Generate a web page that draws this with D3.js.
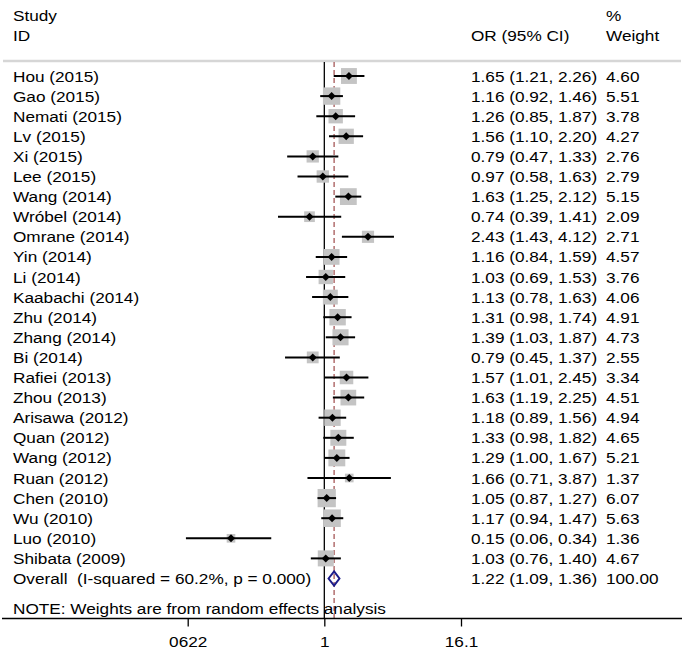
<!DOCTYPE html>
<html>
<head>
<meta charset="utf-8">
<script src="https://cdn.jsdelivr.net/npm/d3@7"></script>
<style>
  html, body { margin: 0; padding: 0; background: #fff; }
  svg { display: block; }
  text { font-family: "Liberation Sans", Arial, sans-serif; fill: #000; white-space: pre; }
</style>
</head>
<body>
<script>
// ---- data ----
const studies = ["Hou (2015)","Gao (2015)","Nemati (2015)","Lv (2015)","Xi (2015)","Lee (2015)","Wang (2014)","Wróbel (2014)","Omrane (2014)","Yin (2014)","Li (2014)","Kaabachi (2014)","Zhu (2014)","Zhang (2014)","Bi (2014)","Rafiei (2013)","Zhou (2013)","Arisawa (2012)","Quan (2012)","Wang (2012)","Ruan (2012)","Chen (2010)","Wu (2010)","Luo (2010)","Shibata (2009)"];
const orValues = [1.65,1.16,1.26,1.56,0.79,0.97,1.63,0.74,2.43,1.16,1.03,1.13,1.31,1.39,0.79,1.57,1.63,1.18,1.33,1.29,1.66,1.05,1.17,0.15,1.03];
const ciLower  = [1.21,0.92,0.85,1.10,0.47,0.58,1.25,0.39,1.43,0.84,0.69,0.78,0.98,1.03,0.45,1.01,1.19,0.89,0.98,1.00,0.71,0.87,0.94,0.06,0.76];
const ciUpper  = [2.26,1.46,1.87,2.20,1.33,1.63,2.12,1.41,4.12,1.59,1.53,1.63,1.74,1.87,1.37,2.45,2.25,1.56,1.82,1.67,3.87,1.27,1.47,0.34,1.40];
const weights  = [4.60,5.51,3.78,4.27,2.76,2.79,5.15,2.09,2.71,4.57,3.76,4.06,4.91,4.73,2.55,3.34,4.51,4.94,4.65,5.21,1.37,6.07,5.63,1.36,4.67];
const overall = {label: "Overall  (I-squared = 60.2%, p = 0.000)", or: 1.22, lo: 1.09, hi: 1.36, weight: "100.00"};
const noteText = "NOTE: Weights are from random effects analysis";
const tickValues = [0.0622, 1, 16.1];
const tickLabels = ["0622", "1", "16.1"];

// ---- layout ----
const W = 685, H = 651;
const FS = 15.5, SX = 1.11;
const svg = d3.select("body").append("svg").attr("width", W).attr("height", H);

const x = d3.scaleLog().domain([0.0622, 16.1]).range([187.7, 461]);
const y = d3.scaleLinear().domain([0, 25]).range([76, 578.5]);
const axisY = 618.5;
const topY = 62;
const f2 = d3.format(".2f");

function txt(s, tx, ty, anchor) {
  return svg.append("text")
    .attr("transform", `translate(${tx},${ty}) scale(${SX},1)`)
    .attr("font-size", FS)
    .attr("xml:space", "preserve")
    .attr("text-anchor", anchor || "start")
    .text(s);
}

// headers
txt("Study", 13, 21);
txt("ID", 13, 41);
txt("OR (95% CI)", 471, 41);
txt("%", 606, 21);
txt("Weight", 606, 41);

// header rule
svg.append("line").attr("x1", 3).attr("x2", 681).attr("y1", topY - 1).attr("y2", topY - 1)
  .attr("stroke", "#d6d6d6").attr("stroke-width", 2.5);

// null line
svg.append("line").attr("x1", x(1)).attr("x2", x(1)).attr("y1", topY).attr("y2", axisY)
  .attr("stroke", "#000").attr("stroke-width", 1.3);

// overall dashed line
svg.append("line").attr("x1", x(overall.or)).attr("x2", x(overall.or)).attr("y1", topY).attr("y2", axisY)
  .attr("stroke", "#9e4a4a").attr("stroke-width", 1.2).attr("stroke-dasharray", "5,3");

// rows
const rows = studies.map((s, i) => ({s, or: orValues[i], lo: ciLower[i], hi: ciUpper[i], w: weights[i], i}));

const g = svg.append("g");
// boxes
g.selectAll("rect.box").data(rows).enter().append("rect")
  .attr("class", "box")
  .attr("x", d => x(d.or) - 3.7 * Math.sqrt(d.w))
  .attr("y", d => y(d.i) - 3.7 * Math.sqrt(d.w))
  .attr("width", d => 7.4 * Math.sqrt(d.w))
  .attr("height", d => 7.4 * Math.sqrt(d.w))
  .attr("fill", "#c4c4c4");
// CI lines
g.selectAll("line.ci").data(rows).enter().append("line")
  .attr("x1", d => x(d.lo)).attr("x2", d => x(d.hi))
  .attr("y1", d => y(d.i)).attr("y2", d => y(d.i))
  .attr("stroke", "#000").attr("stroke-width", 2);
// point markers
g.selectAll("path.pt").data(rows).enter().append("path")
  .attr("d", d => {
    const cx = x(d.or), cy = y(d.i), r = 4;
    return `M${cx - r},${cy}L${cx},${cy - r}L${cx + r},${cy}L${cx},${cy + r}Z`;
  })
  .attr("fill", "#000");

// row text
rows.forEach(d => {
  txt(d.s, 13, y(d.i) + 5.5);
  txt(`${f2(d.or)} (${f2(d.lo)}, ${f2(d.hi)})`, 471, y(d.i) + 5.5);
  txt(f2(d.w), 606, y(d.i) + 5.5);
});

// overall
const oy = y(25);
svg.append("path")
  .attr("d", `M${x(overall.lo)},${oy}L${x(overall.or)},${oy - 7}L${x(overall.hi)},${oy}L${x(overall.or)},${oy + 7}Z`)
  .attr("fill", "none").attr("stroke", "#1c1c8a").attr("stroke-width", 2);
txt(overall.label, 13, oy + 5.5);
txt(`${f2(overall.or)} (${f2(overall.lo)}, ${f2(overall.hi)})`, 471, oy + 5.5);
txt(overall.weight, 606, oy + 5.5);

// note
txt(noteText, 13, y(26.5) + 5.5);

// x axis
svg.append("line").attr("x1", 2).attr("x2", 682).attr("y1", axisY).attr("y2", axisY)
  .attr("stroke", "#000").attr("stroke-width", 1.3);
const axis = d3.axisBottom(x).tickValues(tickValues)
  .tickFormat((d, i) => tickLabels[i]).tickSize(8).tickSizeOuter(0).tickPadding(6);
const ag = svg.append("g").attr("transform", `translate(0,${axisY})`).call(axis);
ag.select(".domain").remove();
ag.selectAll(".tick line").attr("stroke", "#000").attr("stroke-width", 1.3);
ag.selectAll(".tick text")
  .attr("font-size", FS)
  .attr("font-family", "Liberation Sans, Arial, sans-serif")
  .attr("fill", "#000")
  .attr("dy", null).attr("y", 0)
  .attr("transform", `translate(0,28) scale(${SX},1)`);
</script>
</body>
</html>
